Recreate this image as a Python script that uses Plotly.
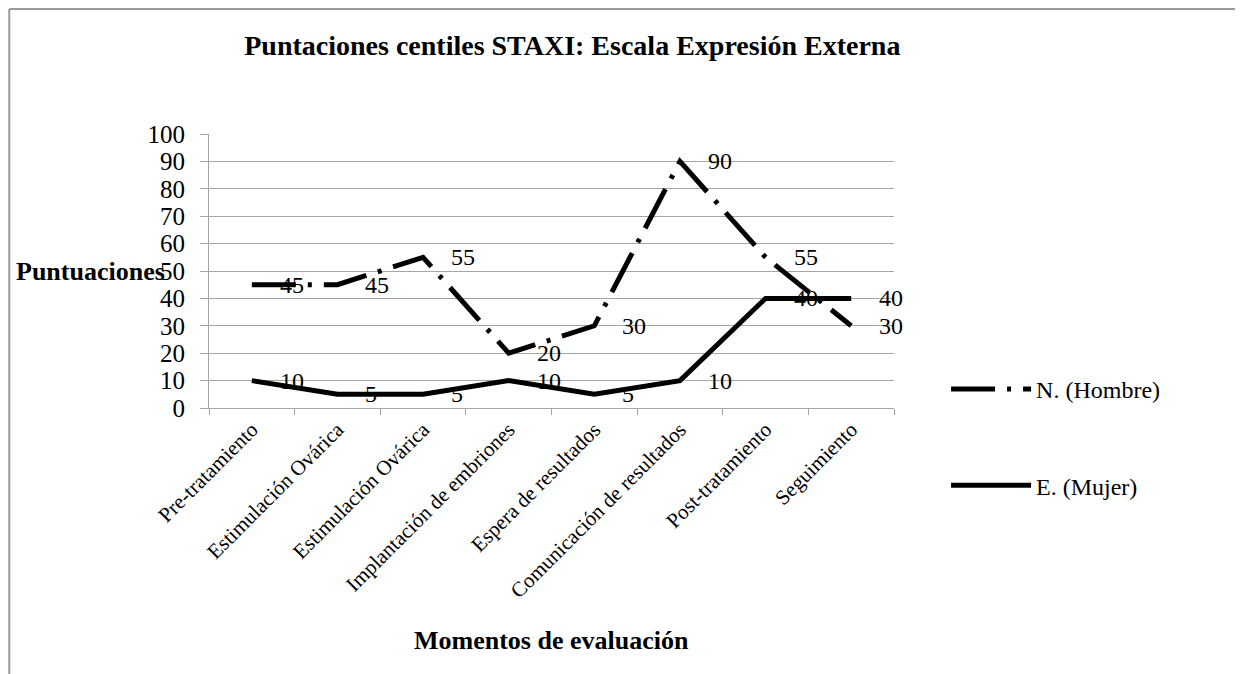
import plotly.graph_objects as go

# momentos de evaluación (el segundo y tercero se repiten en el original)
momentos = [
    "Pre-tratamiento",
    "Estimulación Ovárica",
    "Estimulación Ovárica",
    "Implantación de embriones",
    "Espera de resultados",
    "Comunicación de resultados",
    "Post-tratamiento",
    "Seguimiento",
]
hombre = [45, 45, 55, 20, 30, 90, 55, 30]
mujer = [10, 5, 5, 10, 5, 10, 40, 40]

serif = "Liberation Serif, Times New Roman, serif"
grey = "#a6a6a6"
xpos = list(range(len(momentos)))

fig = go.Figure()

fig.add_trace(go.Scatter(
    x=xpos, y=hombre,
    mode="lines",
    name="N. (Hombre)",
    line=dict(color="black", width=5, dash="44px,12px,4px,12px"),
    legendgroup="h",
))
fig.add_trace(go.Scatter(
    x=xpos, y=mujer,
    mode="lines",
    name="E. (Mujer)",
    line=dict(color="black", width=5),
    legendgroup="m",
))

# etiquetas de datos a la derecha de cada punto
annotations = []
for serie in (hombre, mujer):
    for x, v in zip(xpos, serie):
        annotations.append(dict(
            x=x, y=v, text=str(v), showarrow=False,
            xanchor="left", yanchor="middle", xshift=26,
            font=dict(family=serif, size=24, color="black"),
        ))

annotations.append(dict(
    x=-0.061, y=0.5, xref="paper", yref="paper", text="<b>Puntuaciones</b>",
    showarrow=False, xanchor="right", yanchor="middle",
    font=dict(family=serif, size=26, color="black"),
))
annotations.append(dict(
    x=0.5, y=-0.85, xref="paper", yref="paper", text="<b>Momentos de evaluación</b>",
    showarrow=False, xanchor="center", yanchor="middle",
    font=dict(family=serif, size=26, color="black"),
))

# marco gris del gráfico (borde superior e izquierdo)
bx = -200 / 686
by = 1 + 125 / 274

fig.update_layout(
    width=1243, height=674,
    margin=dict(l=201, r=357, t=126, b=274),
    paper_bgcolor="white", plot_bgcolor="white",
    title=dict(
        text="<b>Puntaciones centiles STAXI: Escala Expresión Externa</b>",
        x=0.454, xanchor="center", y=1 - 37 / 674, yanchor="middle",
        font=dict(family=serif, size=28, color="black"),
    ),
    font=dict(family=serif, color="black"),
    annotations=annotations,
    legend=dict(
        x=1.076, xanchor="left", y=0.15, yanchor="top",
        font=dict(family=serif, size=24, color="black"),
        tracegroupgap=62, itemwidth=80, bgcolor="rgba(0,0,0,0)",
    ),
    shapes=[
        dict(type="line", xref="paper", yref="paper", x0=bx, x1=bx, y0=-1.2, y1=by,
             line=dict(color="#999999", width=2)),
        dict(type="line", xref="paper", yref="paper", x0=bx, x1=1.7, y0=by, y1=by,
             line=dict(color="#999999", width=2)),
    ],
)

fig.update_xaxes(
    range=[-0.5, len(momentos) - 0.5],
    tickmode="array", tickvals=xpos, ticktext=momentos,
    tickangle=-45, ticks="",
    tickfont=dict(family=serif, size=21, color="black"),
    showgrid=False, zeroline=False,
    showline=True, linecolor=grey, linewidth=1,
    minor=dict(tick0=-0.5, dtick=1, ticks="outside", ticklen=6, tickcolor=grey, showgrid=False),
)
fig.update_yaxes(
    range=[0, 100], dtick=10,
    ticks="outside", ticklen=8, tickcolor=grey,
    tickfont=dict(family=serif, size=25, color="black"),
    ticklabelstandoff=10,
    showgrid=True, gridcolor=grey, gridwidth=1, zeroline=False,
    showline=True, linecolor=grey, linewidth=1,
)

fig.write_html("out.html")
